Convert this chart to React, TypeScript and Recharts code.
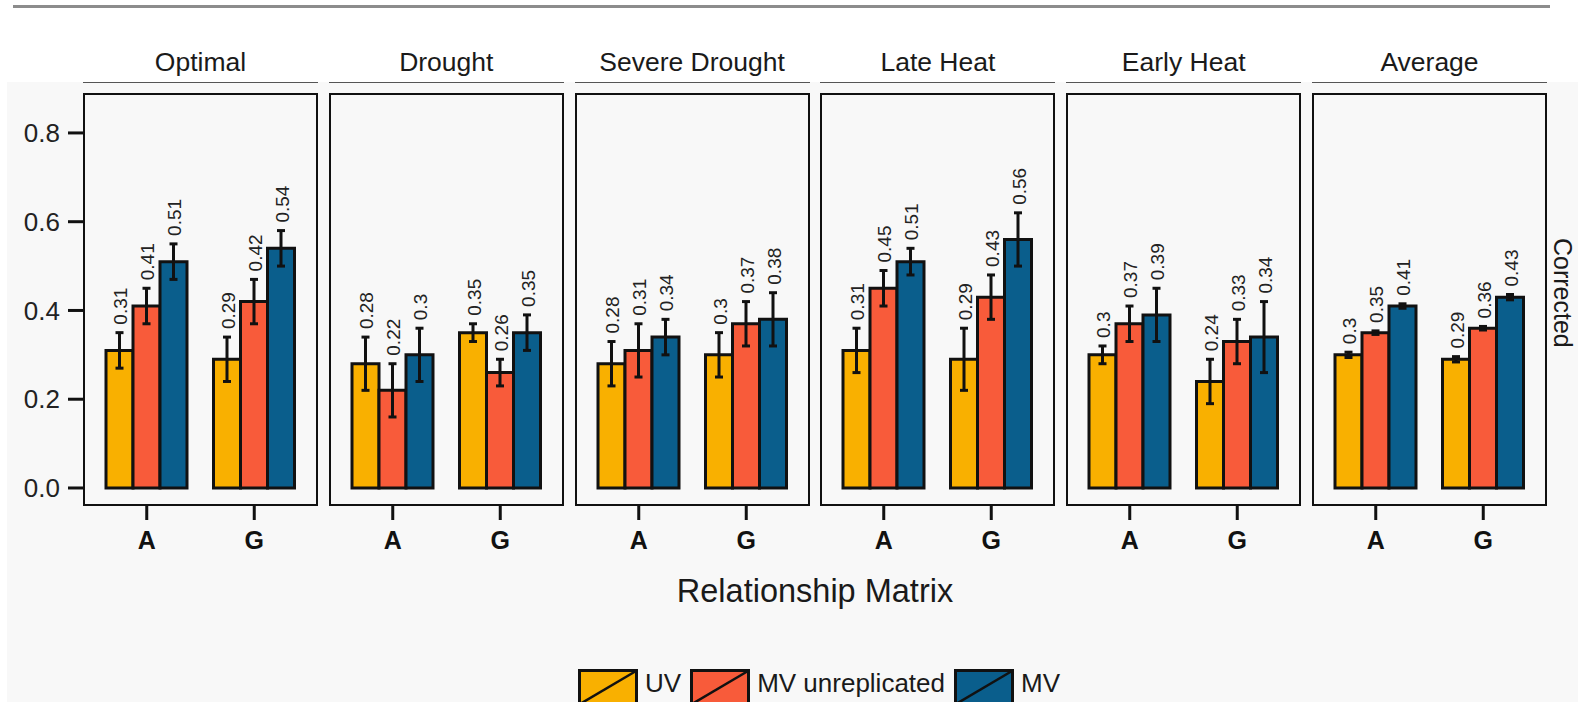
import React from "react";
import { Bar, BarChart, ErrorBar, LabelList, XAxis, YAxis } from "recharts";

// ---- data ----
const conditions = ["Optimal", "Drought", "Severe Drought", "Late Heat", "Early Heat", "Average"];
const matrices = ["A", "G"];
const seriesNames = ["UV", "MV unreplicated", "MV"];
const seriesKeys = ["uv", "mvu", "mv"];
const seriesColors = ["#F9B000", "#F85B3A", "#0A5E8C"];
const yTicks = [0, 0.2, 0.4, 0.6, 0.8];

// one [A, G] pair per condition
const uvMean = [[0.31, 0.29], [0.28, 0.35], [0.28, 0.3], [0.31, 0.29], [0.3, 0.24], [0.3, 0.29]];
const uvErr = [[0.04, 0.05], [0.06, 0.02], [0.05, 0.05], [0.05, 0.07], [0.02, 0.05], [0.006, 0.006]];
const mvuMean = [[0.41, 0.42], [0.22, 0.26], [0.31, 0.37], [0.45, 0.43], [0.37, 0.33], [0.35, 0.36]];
const mvuErr = [[0.04, 0.05], [0.06, 0.03], [0.06, 0.05], [0.04, 0.05], [0.04, 0.05], [0.004, 0.004]];
const mvMean = [[0.51, 0.54], [0.3, 0.35], [0.34, 0.38], [0.51, 0.56], [0.39, 0.34], [0.41, 0.43]];
const mvErr = [[0.04, 0.04], [0.06, 0.04], [0.04, 0.06], [0.03, 0.06], [0.06, 0.08], [0.005, 0.006]];

// ---- layout ----
const FONT = "'Liberation Sans', Arial, Helvetica, sans-serif";
const PANEL_TOP = 93;
const PANEL_H = 413;
const PANEL_W = 235;
const PANEL_GAP = 10.8;
const FIRST_LEFT = 83;
const Y_AXIS_W = 83;
const X_AXIS_H = 60;
const Y_DOMAIN: [number, number] = [-0.0406, 0.89];

function panelRows(ci: number) {
  return matrices.map((m, mi) => ({
    matrix: m,
    uv: uvMean[ci][mi],
    uvErr: uvErr[ci][mi],
    mvu: mvuMean[ci][mi],
    mvuErr: mvuErr[ci][mi],
    mv: mvMean[ci][mi],
    mvErr: mvErr[ci][mi],
  }));
}

// rotated value label sitting just above the error bar
function ValueLabel(props: any) {
  const { x, y, width, height, value, err } = props;
  if (value == null || !height) return null;
  const errPx = (err * Math.abs(height)) / value;
  const cx = x + width / 2 + 1;
  const ly = y - errPx - 8;
  return (
    <text
      x={cx}
      y={ly}
      transform={`rotate(-90 ${cx} ${ly})`}
      textAnchor="start"
      dy="0.36em"
      fontSize={19}
      fill="#222"
      fontFamily={FONT}
    >
      {String(value)}
    </text>
  );
}

function Panel({ ci }: { ci: number }) {
  const rows = panelRows(ci);
  const first = ci === 0;
  const panelLeft = FIRST_LEFT + ci * (PANEL_W + PANEL_GAP);
  const chartLeft = first ? panelLeft - Y_AXIS_W : panelLeft;
  const chartW = PANEL_W + (first ? Y_AXIS_W : 0);

  return (
    <>
      {/* strip */}
      <div
        style={{
          position: "absolute",
          left: panelLeft,
          top: 45,
          width: PANEL_W,
          height: 34,
          lineHeight: "34px",
          textAlign: "center",
          fontSize: 26.5,
          color: "#1a1a1a",
        }}
      >
        {conditions[ci]}
      </div>
      <div
        style={{
          position: "absolute",
          left: panelLeft,
          top: 82,
          width: PANEL_W,
          height: 0,
          borderTop: "1.5px solid #555",
        }}
      />

      <div style={{ position: "absolute", left: chartLeft, top: PANEL_TOP }}>
        <BarChart
          width={chartW}
          height={PANEL_H + X_AXIS_H}
          data={rows}
          margin={{ top: 0, right: 0, bottom: 0, left: 0 }}
          barGap={0}
        >
          <XAxis
            dataKey="matrix"
            padding={{ left: 10, right: 10 }}
            axisLine={false}
            tickLine={{ stroke: "#111", strokeWidth: 3 }}
            tickSize={14}
            tickMargin={11}
            height={X_AXIS_H}
            interval={0}
            tick={{ fontSize: 25, fontWeight: 700, fill: "#111", fontFamily: FONT }}
          />
          <YAxis
            hide={!first}
            width={Y_AXIS_W}
            domain={Y_DOMAIN}
            allowDataOverflow
            ticks={yTicks}
            tickFormatter={(v: number) => v.toFixed(1)}
            axisLine={false}
            tickLine={{ stroke: "#111", strokeWidth: 3 }}
            tickSize={15}
            tickMargin={8}
            tick={{ fontSize: 26, fill: "#222", fontFamily: FONT }}
          />
          {seriesKeys.map((k, si) => (
            <Bar
              key={k}
              dataKey={k}
              name={seriesNames[si]}
              fill={seriesColors[si]}
              stroke="#111"
              strokeWidth={3}
              barSize={27}
              isAnimationActive={false}
            >
              <ErrorBar
                dataKey={`${k}Err`}
                width={4}
                stroke="#111"
                strokeWidth={3}
                direction="y"
                isAnimationActive={false}
              />
              <LabelList
                dataKey={k}
                content={(p: any) => (
                  <ValueLabel {...p} err={(rows as any)[p.index ?? 0][`${k}Err`]} />
                )}
              />
            </Bar>
          ))}
        </BarChart>
      </div>

      {/* panel frame */}
      <div
        style={{
          position: "absolute",
          left: panelLeft,
          top: PANEL_TOP,
          width: PANEL_W,
          height: PANEL_H,
          border: "2px solid #111",
          boxSizing: "border-box",
          pointerEvents: "none",
        }}
      />
    </>
  );
}

function LegendKey({ color }: { color: string }) {
  return (
    <svg width={60} height={36} style={{ display: "block", overflow: "visible" }}>
      <rect x={1.5} y={1.5} width={57} height={36} fill={color} stroke="#111" strokeWidth={3} />
      <line x1={2} y1={35} x2={58} y2={2} stroke="#111" strokeWidth={2.5} />
    </svg>
  );
}

export default function App() {
  return (
    <div
      style={{
        position: "absolute",
        left: 0,
        top: 0,
        width: 1578,
        height: 702,
        overflow: "hidden",
        background: "#fff",
        fontFamily: FONT,
      }}
    >
      {/* plot background */}
      <div style={{ position: "absolute", left: 7, top: 82, right: 0, bottom: 0, background: "#F8F8F8" }} />
      {/* rule at the top */}
      <div style={{ position: "absolute", left: 13, top: 5, width: 1537, height: 3, background: "#8c8c8c" }} />

      {conditions.map((_, ci) => (
        <Panel key={ci} ci={ci} />
      ))}

      {/* facet label on the right */}
      <div
        style={{
          position: "absolute",
          left: 1549,
          top: 238,
          writingMode: "vertical-rl",
          fontSize: 25,
          color: "#1a1a1a",
          lineHeight: "28px",
        }}
      >
        Corrected
      </div>

      {/* x axis title */}
      <div
        style={{
          position: "absolute",
          left: FIRST_LEFT,
          width: 6 * PANEL_W + 5 * PANEL_GAP,
          top: 571,
          textAlign: "center",
          fontSize: 32.5,
          lineHeight: "40px",
          color: "#1a1a1a",
        }}
      >
        Relationship Matrix
      </div>

      {/* legend */}
      <div
        style={{
          position: "absolute",
          left: 578,
          top: 669,
          display: "flex",
          alignItems: "flex-start",
        }}
      >
        {seriesNames.map((n, si) => (
          <div key={n} style={{ display: "flex", alignItems: "flex-start", marginRight: 9 }}>
            <LegendKey color={seriesColors[si]} />
            <span style={{ marginLeft: 7, marginTop: 3, fontSize: 26, lineHeight: "22px", color: "#1a1a1a" }}>{n}</span>
          </div>
        ))}
      </div>
    </div>
  );
}
